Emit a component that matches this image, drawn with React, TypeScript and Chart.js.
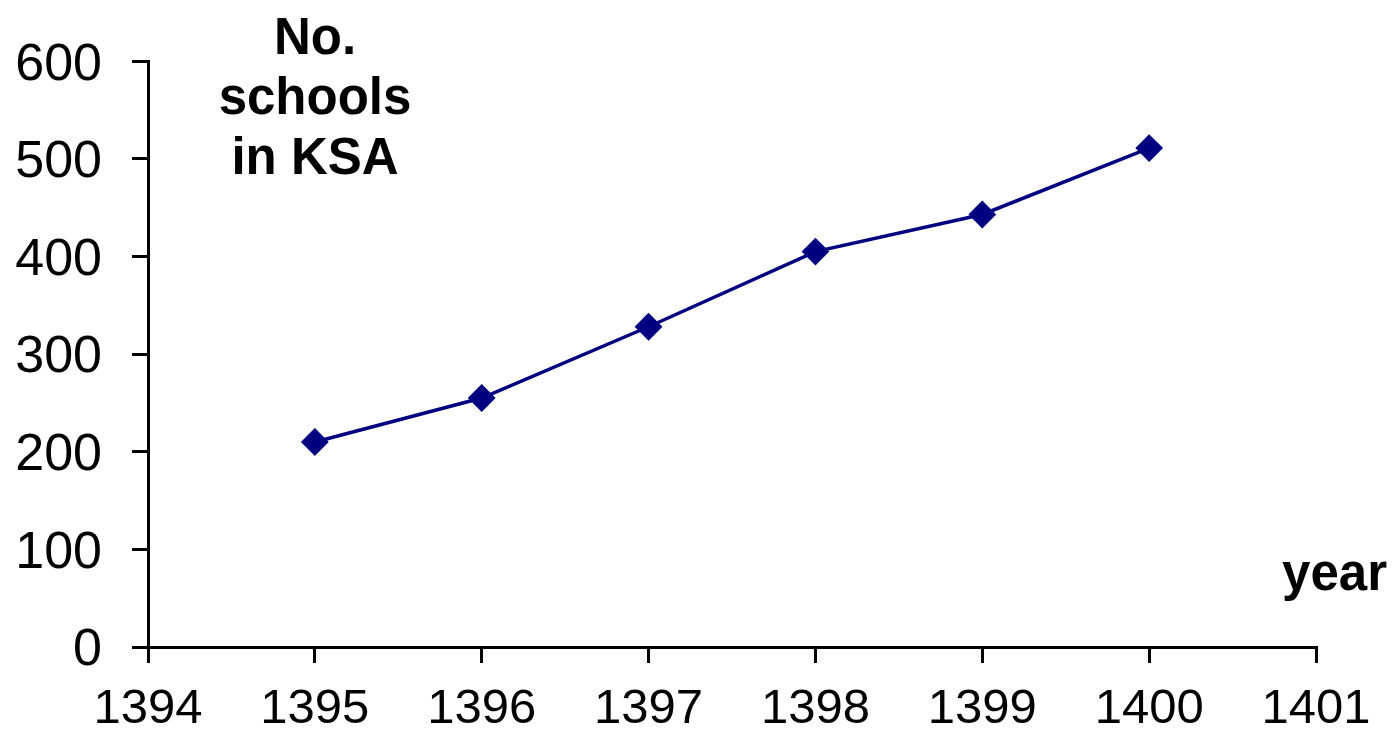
import React, { useEffect, useRef } from "react";
import { Chart, registerables } from "chart.js";

Chart.register(...registerables);

const years = [1395, 1396, 1397, 1398, 1399, 1400];
const schools = [210, 255, 328, 405, 443, 511];
const yTitleLines = ["No.", "schools", "in KSA"];
const xTitle = "year";

const FONT = "'Liberation Sans', Arial, sans-serif";

const textPlugin = {
  id: "axisTexts",
  afterDraw(chart: any) {
    const ctx = chart.ctx;
    ctx.save();
    ctx.fillStyle = "#000";
    ctx.font = `bold 51px ${FONT}`;
    ctx.textAlign = "center";
    ctx.textBaseline = "alphabetic";
    const baselines = [54, 114, 174];
    yTitleLines.forEach((l, i) => ctx.fillText(l, 315, baselines[i]));
    ctx.textAlign = "right";
    ctx.fillText(xTitle, 1387, 590);
    ctx.restore();
  },
};

export default function App() {
  const ref = useRef<HTMLCanvasElement>(null);
  useEffect(() => {
    document.body.style.margin = "0";
    const chart = new Chart(ref.current!, {
      type: "line",
      data: {
        datasets: [
          {
            data: years.map((x, i) => ({ x, y: schools[i] })),
            borderColor: "#000080",
            backgroundColor: "#000080",
            borderWidth: 3.5,
            pointStyle: "rectRot",
            pointRadius: 12.5,
            pointBorderWidth: 2,
            pointBackgroundColor: "#000080",
            pointBorderColor: "#000080",
            tension: 0,
          },
        ],
      },
      options: {
        animation: false,
        responsive: false,
        layout: { padding: { top: 59, right: 79, left: 0, bottom: 0 } },
        plugins: { legend: { display: false }, tooltip: { enabled: false }, title: { display: false } },
        scales: {
          x: {
            type: "linear",
            min: 1394,
            max: 1401,
            afterFit: (s: any) => {
              s.height = 87;
            },
            ticks: {
              stepSize: 1,
              color: "#000",
              font: { family: FONT, size: 49 },
              padding: 17,
              maxRotation: 0,
              callback: (v: any) => String(v),
            },
            grid: { drawOnChartArea: false, drawTicks: true, tickLength: 16, color: "#000", lineWidth: 3 },
            border: { display: true, color: "#000", width: 3 },
          },
          y: {
            type: "linear",
            min: 0,
            max: 600,
            afterFit: (s: any) => {
              s.width = 148;
            },
            ticks: {
              stepSize: 100,
              color: "#000",
              font: { family: FONT, size: 52 },
              padding: 30,
              labelOffset: 4,
            },
            grid: { drawOnChartArea: false, drawTicks: true, tickLength: 16, color: "#000", lineWidth: 3 },
            border: { display: true, color: "#000", width: 3 },
          },
        },
      },
      plugins: [textPlugin],
    });
    return () => chart.destroy();
  }, []);
  return (
    <div style={{ width: 1395, height: 734, position: "relative" }}>
      <canvas ref={ref} width={1395} height={734} style={{ display: "block" }} />
    </div>
  );
}
